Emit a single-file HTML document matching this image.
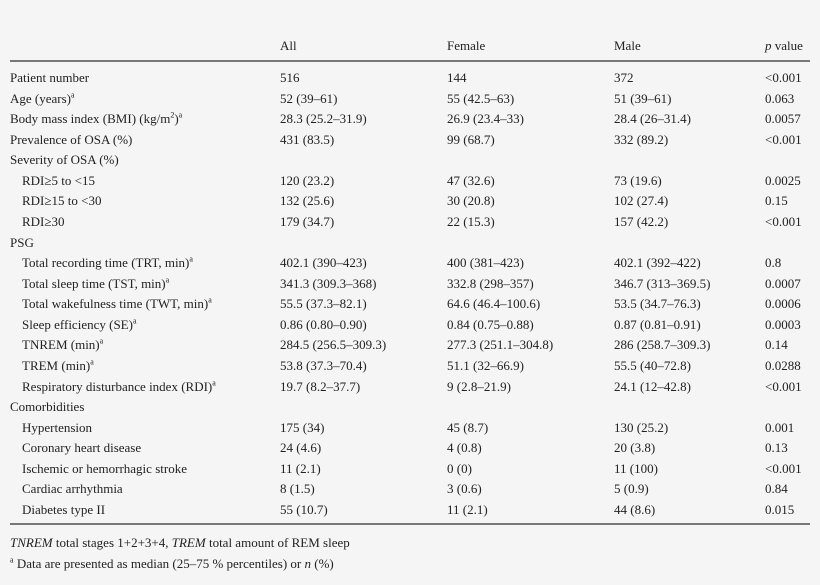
<!DOCTYPE html>
<html><head><meta charset="utf-8"><style>
body{margin:0;width:820px;height:585px;background:#f5f5f5;font-family:"Liberation Serif",serif;font-size:13px;color:#222;position:relative;overflow:hidden}
.r{position:absolute;left:0;width:820px;height:16px;line-height:16px}
.r span{position:absolute;white-space:nowrap}
.a{left:280px}.f{left:447px}.m{left:614px}.p{left:765px}
.l{left:10px}.i{left:22px}
sup{font-size:8px;line-height:0}
.hl{position:absolute;left:10px;width:800px;height:2px;background:#777}
</style></head><body>
<div class="r" style="top:38px"><span class="a">All</span><span class="f">Female</span><span class="m">Male</span><span class="p"><i>p</i> value</span></div>
<div class="hl" style="top:60px"></div>
<div class="r" style="top:70px"><span class="l">Patient number</span><span class="a">516</span><span class="f">144</span><span class="m">372</span><span class="p">&lt;0.001</span></div>
<div class="r" style="top:90.6px"><span class="l">Age (years)<sup>a</sup></span><span class="a">52 (39–61)</span><span class="f">55 (42.5–63)</span><span class="m">51 (39–61)</span><span class="p">0.063</span></div>
<div class="r" style="top:111.1px"><span class="l">Body mass index (BMI) (kg/m<sup>2</sup>)<sup>a</sup></span><span class="a">28.3 (25.2–31.9)</span><span class="f">26.9 (23.4–33)</span><span class="m">28.4 (26–31.4)</span><span class="p">0.0057</span></div>
<div class="r" style="top:131.7px"><span class="l">Prevalence of OSA (%)</span><span class="a">431 (83.5)</span><span class="f">99 (68.7)</span><span class="m">332 (89.2)</span><span class="p">&lt;0.001</span></div>
<div class="r" style="top:152.3px"><span class="l">Severity of OSA (%)</span></div>
<div class="r" style="top:172.9px"><span class="i">RDI≥5 to &lt;15</span><span class="a">120 (23.2)</span><span class="f">47 (32.6)</span><span class="m">73 (19.6)</span><span class="p">0.0025</span></div>
<div class="r" style="top:193.4px"><span class="i">RDI≥15 to &lt;30</span><span class="a">132 (25.6)</span><span class="f">30 (20.8)</span><span class="m">102 (27.4)</span><span class="p">0.15</span></div>
<div class="r" style="top:214px"><span class="i">RDI≥30</span><span class="a">179 (34.7)</span><span class="f">22 (15.3)</span><span class="m">157 (42.2)</span><span class="p">&lt;0.001</span></div>
<div class="r" style="top:234.6px"><span class="l">PSG</span></div>
<div class="r" style="top:255.1px"><span class="i">Total recording time (TRT, min)<sup>a</sup></span><span class="a">402.1 (390–423)</span><span class="f">400 (381–423)</span><span class="m">402.1 (392–422)</span><span class="p">0.8</span></div>
<div class="r" style="top:275.7px"><span class="i">Total sleep time (TST, min)<sup>a</sup></span><span class="a">341.3 (309.3–368)</span><span class="f">332.8 (298–357)</span><span class="m">346.7 (313–369.5)</span><span class="p">0.0007</span></div>
<div class="r" style="top:296.3px"><span class="i">Total wakefulness time (TWT, min)<sup>a</sup></span><span class="a">55.5 (37.3–82.1)</span><span class="f">64.6 (46.4–100.6)</span><span class="m">53.5 (34.7–76.3)</span><span class="p">0.0006</span></div>
<div class="r" style="top:316.9px"><span class="i">Sleep efficiency (SE)<sup>a</sup></span><span class="a">0.86 (0.80–0.90)</span><span class="f">0.84 (0.75–0.88)</span><span class="m">0.87 (0.81–0.91)</span><span class="p">0.0003</span></div>
<div class="r" style="top:337.4px"><span class="i">TNREM (min)<sup>a</sup></span><span class="a">284.5 (256.5–309.3)</span><span class="f">277.3 (251.1–304.8)</span><span class="m">286 (258.7–309.3)</span><span class="p">0.14</span></div>
<div class="r" style="top:358px"><span class="i">TREM (min)<sup>a</sup></span><span class="a">53.8 (37.3–70.4)</span><span class="f">51.1 (32–66.9)</span><span class="m">55.5 (40–72.8)</span><span class="p">0.0288</span></div>
<div class="r" style="top:378.6px"><span class="i">Respiratory disturbance index (RDI)<sup>a</sup></span><span class="a">19.7 (8.2–37.7)</span><span class="f">9 (2.8–21.9)</span><span class="m">24.1 (12–42.8)</span><span class="p">&lt;0.001</span></div>
<div class="r" style="top:399.1px"><span class="l">Comorbidities</span></div>
<div class="r" style="top:419.7px"><span class="i">Hypertension</span><span class="a">175 (34)</span><span class="f">45 (8.7)</span><span class="m">130 (25.2)</span><span class="p">0.001</span></div>
<div class="r" style="top:440.3px"><span class="i">Coronary heart disease</span><span class="a">24 (4.6)</span><span class="f">4 (0.8)</span><span class="m">20 (3.8)</span><span class="p">0.13</span></div>
<div class="r" style="top:460.9px"><span class="i">Ischemic or hemorrhagic stroke</span><span class="a">11 (2.1)</span><span class="f">0 (0)</span><span class="m">11 (100)</span><span class="p">&lt;0.001</span></div>
<div class="r" style="top:481.4px"><span class="i">Cardiac arrhythmia</span><span class="a">8 (1.5)</span><span class="f">3 (0.6)</span><span class="m">5 (0.9)</span><span class="p">0.84</span></div>
<div class="r" style="top:502px"><span class="i">Diabetes type II</span><span class="a">55 (10.7)</span><span class="f">11 (2.1)</span><span class="m">44 (8.6)</span><span class="p">0.015</span></div>
<div class="hl" style="top:523px"></div>
<div class="r" style="top:535px"><span class="l"><i>TNREM</i> total stages 1+2+3+4, <i>TREM</i> total amount of REM sleep</span></div>
<div class="r" style="top:556px"><span class="l"><sup>a</sup> Data are presented as median (25–75 % percentiles) or <i>n</i> (%)</span></div>
</body></html>
